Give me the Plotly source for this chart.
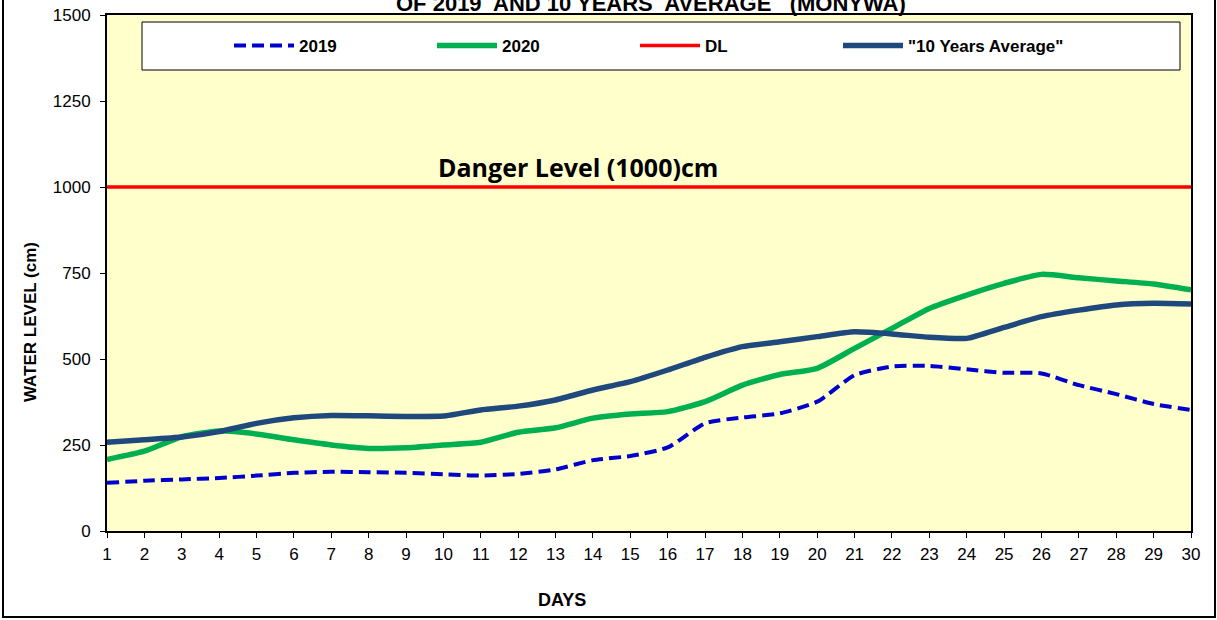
import plotly.graph_objects as go

days = list(range(1, 31))
y2019 = [140, 146, 150, 154, 161, 169, 172, 171, 169, 165, 161, 166, 179, 206, 218, 243, 313, 330, 342, 376,
         453, 478, 480, 470, 460, 458, 424, 398, 369, 352]
y2020 = [208, 232, 274, 291, 282, 265, 250, 240, 242, 250, 258, 287, 300, 328, 340, 347, 376, 424, 455, 473,
         531, 589, 647, 686, 720, 746, 736, 727, 718, 701]
y_dl = [1000] * 30
y_avg = [258, 265, 273, 289, 313, 329, 336, 335, 333, 334, 352, 363, 381, 410, 434, 468, 505, 536, 550, 565,
         579, 573, 563, 560, 592, 623, 642, 657, 662, 660]

FONT = "Liberation Sans, Arial, sans-serif"

fig = go.Figure()
fig.add_trace(go.Scatter(x=days, y=y2019, name="2019", mode="lines",
                         line=dict(color="#0000CC", width=4, dash="12px,6px", shape="spline", smoothing=0.6)))
fig.add_trace(go.Scatter(x=days, y=y2020, name="2020", mode="lines",
                         line=dict(color="#00B050", width=5.5, shape="spline", smoothing=0.6)))
fig.add_trace(go.Scatter(x=days, y=y_dl, name="DL", mode="lines",
                         line=dict(color="#FF0000", width=3.5)))
fig.add_trace(go.Scatter(x=days, y=y_avg, name='"10 Years Average"', mode="lines",
                         line=dict(color="#1F497D", width=5.5, shape="spline", smoothing=0.5)))
# empty legend spacer so the last legend text is not clipped
fig.add_trace(go.Scatter(x=[None], y=[None], name=" ", mode="lines",
                         line=dict(color="rgba(0,0,0,0)", width=0), hoverinfo="skip"))

W, H = 1217, 620
L, R, T, B = 107, 26, 15, 89
pw, ph = W - L - R, H - T - B

def px_x(px):
    return (px - L) / pw

def px_y(py):
    return (H - B - py) / ph

shapes = [
    dict(type="rect", xref="paper", yref="paper", x0=px_x(142), x1=px_x(1180), y0=px_y(70), y1=px_y(22),
         line=dict(color="black", width=1), fillcolor="white", layer="below"),
    dict(type="rect", xref="paper", yref="paper", x0=px_x(3), x1=px_x(1215), y0=px_y(617), y1=px_y(-20),
         line=dict(color="black", width=2), fillcolor="rgba(0,0,0,0)"),
]

fig.update_layout(
    width=W, height=H,
    margin=dict(l=L, r=R, t=T, b=B, autoexpand=False),
    paper_bgcolor="white",
    plot_bgcolor="#FFFFCC",
    font=dict(family=FONT, color="black", size=15),
    showlegend=True,
    legend=dict(orientation="h", x=px_x(229), xanchor="left", y=px_y(46), yanchor="middle",
                bgcolor="rgba(0,0,0,0)", borderwidth=0, entrywidth=128, entrywidthmode="pixels",
                font=dict(family=FONT, size=17, color="black", weight="bold"), itemwidth=60),
    shapes=shapes,
    annotations=[
        dict(text="Danger Level (1000)cm", x=px_x(578), y=1000, xref="paper", yref="y",
             yanchor="bottom", yshift=1, showarrow=False,
             font=dict(family="Open Sans, sans-serif", size=25, color="black", weight="bold")),
        dict(text="OF 2019  AND 10 YEARS  AVERAGE   (MONYWA)", x=px_x(651), y=px_y(4), xref="paper", yref="paper",
             yanchor="middle", showarrow=False,
             font=dict(family=FONT, size=22, color="black", weight="bold")),
        dict(text="WATER LEVEL (cm)", x=px_x(30), y=px_y(322), xref="paper", yref="paper",
             xanchor="center", yanchor="middle", textangle=-90, showarrow=False,
             font=dict(family=FONT, size=17, color="black", weight="bold")),
        dict(text="DAYS", x=px_x(562), y=px_y(600), xref="paper", yref="paper",
             xanchor="center", yanchor="middle", showarrow=False,
             font=dict(family=FONT, size=18, color="black", weight="bold")),
    ],
    xaxis=dict(range=[1, 30], tickmode="array", tickvals=days, ticktext=[str(d) for d in days],
               showgrid=False, zeroline=False, showline=True, linecolor="black", linewidth=2, mirror=True,
               ticks="outside", ticklen=5, tickcolor="black", tickfont=dict(size=17, family=FONT),
               ticklabelstandoff=2, automargin=False),
    yaxis=dict(range=[0, 1500], tickmode="array", tickvals=[0, 250, 500, 750, 1000, 1250, 1500],
               showgrid=False, zeroline=False, showline=True, linecolor="black", linewidth=2, mirror=True,
               ticks="outside", ticklen=5, tickcolor="black", tickfont=dict(size=17, family=FONT),
               ticklabelstandoff=6, automargin=False),
)

fig.write_html("out.html", config={"displayModeBar": False},
               post_script="document.body.style.margin='0px';")
